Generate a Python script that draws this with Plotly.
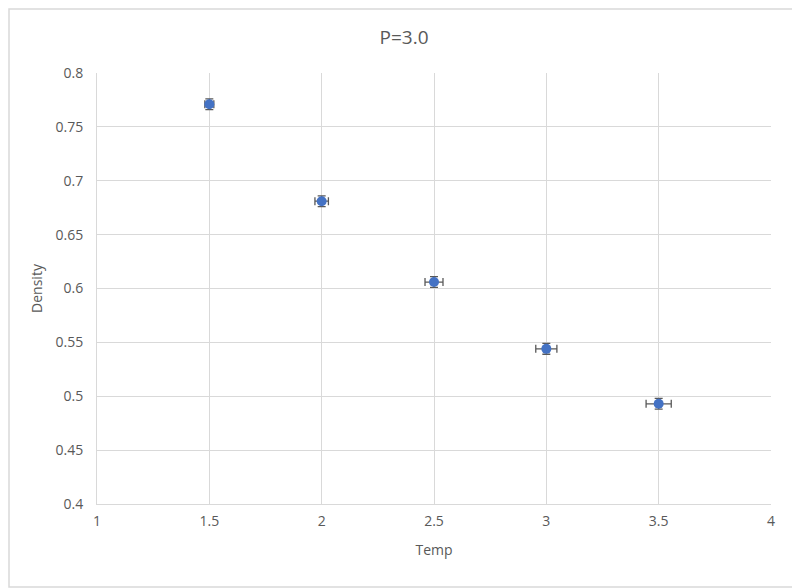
import plotly.graph_objects as go

# data
temp = [1.5, 2.0, 2.5, 3.0, 3.5]
density = [0.771, 0.681, 0.606, 0.544, 0.493]
temp_err = [0.02, 0.03, 0.04, 0.047, 0.056]
density_err = [0.005, 0.005, 0.005, 0.005, 0.005]

# page body adds an 8px offset, so the figure is a bit smaller than the window
W, H = 792, 580
ml, mr, mt, mb = 89, 29, 65, 84
pw, ph = W - ml - mr, H - mt - mb

grey = "#595959"
grid = "#d9d9d9"

fig = go.Figure()
fig.add_trace(go.Scatter(
    x=temp, y=density, mode="markers",
    marker=dict(color="#4472c4", size=10, symbol="circle"),
    error_x=dict(type="data", array=temp_err, color="#595959", thickness=1.3, width=4),
    error_y=dict(type="data", array=density_err, color="#595959", thickness=1.3, width=4),
    showlegend=False,
))

axis_common = dict(
    showgrid=True, gridcolor=grid, gridwidth=1,
    showline=True, linecolor=grid, linewidth=1, mirror=False,
    zeroline=False, ticks="",
    tickfont=dict(size=14, color=grey),
)

fig.update_layout(
    width=W, height=H,
    margin=dict(l=ml, r=mr, t=mt, b=mb),
    paper_bgcolor="white", plot_bgcolor="white",
    font=dict(family="Open Sans, Liberation Sans, sans-serif", color=grey),
    title=dict(text="P=3.0", x=0.5, xanchor="center", y=1 - 29 / H, yanchor="middle",
               font=dict(size=19, color=grey)),
    xaxis=dict(range=[1, 4], dtick=0.5, tick0=1, ticklabelstandoff=4,
               title=dict(text="Temp", font=dict(size=14, color=grey), standoff=16),
               **axis_common),
    yaxis=dict(range=[0.4, 0.8], dtick=0.05, tick0=0.4, ticklabelstandoff=10,
               title=dict(text="Density", font=dict(size=14, color=grey), standoff=9),
               **axis_common),
)

# light outer frame around the whole chart
fig.add_shape(type="rect", xref="paper", yref="paper",
              x0=-(ml - 1) / pw, x1=1 + (mr - 1) / pw,
              y0=-(mb - 1) / ph, y1=1 + (mt - 1) / ph,
              line=dict(color=grid, width=1.5), layer="below")

fig.write_html("out.html")
